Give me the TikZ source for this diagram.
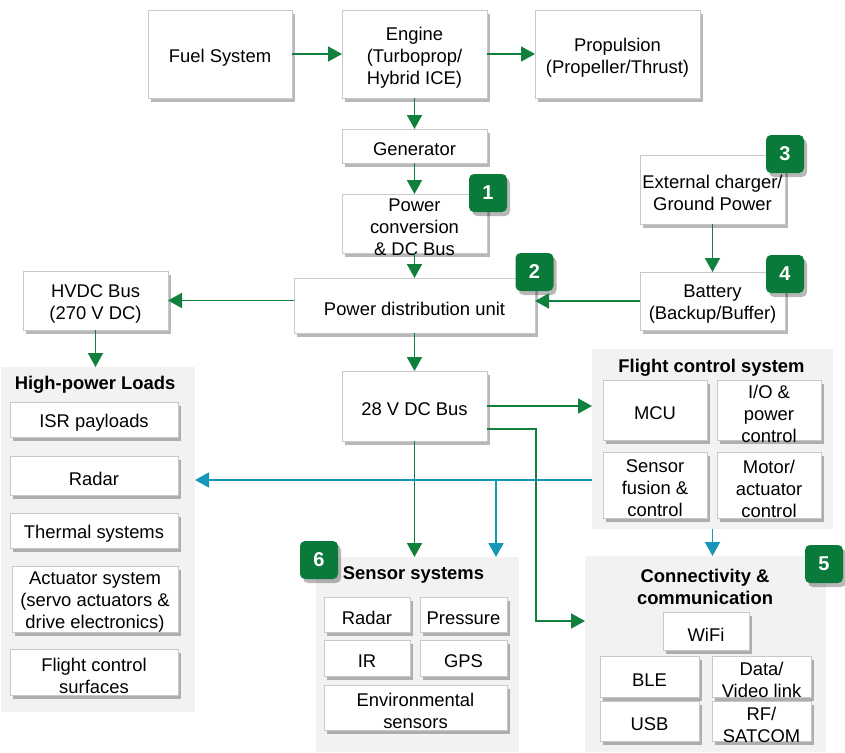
\documentclass[tikz,border=0pt]{standalone}
\usepackage{fontspec}
\setmainfont{Liberation Sans}
\usetikzlibrary{arrows.meta,shadows}
\definecolor{gline}{RGB}{16,128,60}
\definecolor{gbadge}{RGB}{10,122,58}
\definecolor{bline}{RGB}{23,150,185}
\definecolor{panelc}{RGB}{242,242,242}
\definecolor{bordc}{RGB}{200,200,200}
\tikzset{
 box/.style={draw=bordc, line width=0.9pt, fill=white, inner sep=0pt, outer sep=0pt,
   drop shadow={shadow xshift=3pt, shadow yshift=-4pt, opacity=0.28, fill=black}},
 txt/.style={align=center, font=\fontsize{18.4}{22}\selectfont, inner sep=0pt, text=black, yshift=-3.5pt},
 panel/.style={fill=panelc, inner sep=0pt, outer sep=0pt},
 ptitle/.style={font=\fontsize{18.4}{22}\selectfont\bfseries, align=center, inner sep=0pt},
 badge/.style={fill=gbadge, rounded corners=5pt, text=white, font=\fontsize{20}{24}\selectfont\bfseries,
   minimum size=38pt, inner sep=0pt, outer sep=0pt,
   drop shadow={shadow xshift=3pt, shadow yshift=-4pt, opacity=0.28, fill=black}},
 garrow/.style={draw=gline, line width=1.8pt, -{Triangle[length=14pt,width=15pt]}},
 barrow/.style={draw=bline, line width=1.8pt, -{Triangle[length=14pt,width=15pt]}},
}
\newcommand\bx[6]{\node[box, minimum width={#4-#2}, minimum height={#5-#3},
  label={[txt]center:{#6}}] (#1) at ({(#2+#4)/2},{(#3+#5)/2}) {};}
\newcommand\pn[5]{\node[panel, minimum width={#4-#2}, minimum height={#5-#3}]
  (#1) at ({(#2+#4)/2},{(#3+#5)/2}) {};}
\newcommand\bd[4]{\node[badge] (#1) at (#2,#3) {#4};}
\begin{document}
\begin{tikzpicture}[x=1pt,y=-1pt]
\useasboundingbox (0,0) rectangle (845,752);
% panels
\pn{hp}{1}{367}{195}{712}
\pn{fcs}{592}{349}{833}{529}
\pn{ss}{316}{557}{519}{752}
\pn{conn}{585}{556}{826}{752}
\node[ptitle] (hpt) at (95,385) {High-power Loads};
\node[ptitle] (fcst) at (711.5,368) {Flight control system};
\node[ptitle] (sst) at (413.5,575) {Sensor systems};
\node[ptitle] (connt) at (705,587) {Connectivity \&\\communication};
% top chain
\bx{fuel}{148}{10}{292}{98}{Fuel System}
\bx{eng}{342}{10}{487}{98}{Engine\\(Turboprop/\\Hybrid ICE)}
\bx{prop}{535}{10}{700}{98}{Propulsion\\(Propeller/Thrust)}
\bx{gen}{342}{129}{487}{163}{Generator}
\bx{pconv}{342}{194}{487}{253}{Power\\conversion\\\& DC Bus}
\bx{ext}{640}{155}{785}{224}{External charger/\\Ground Power}
\bx{hvdc}{23}{271}{168}{330}{HVDC Bus\\(270 V DC)}
\bx{pdu}{294}{278}{535}{333}{Power distribution unit}
\bx{batt}{640}{272}{785}{330}{Battery\\(Backup/Buffer)}
\bx{v28}{342}{371}{487}{441}{28 V DC Bus}
% high-power loads
\bx{isr}{10}{402}{178}{437}{ISR payloads}
\bx{hradar}{10}{456}{178}{495}{Radar}
\bx{therm}{10}{513}{178}{548}{Thermal systems}
\bx{act}{12}{566}{178}{632}{Actuator system\\(servo actuators \&\\drive electronics)}
\bx{fcsurf}{10}{649}{178}{695}{Flight control\\surfaces}
% flight control system
\bx{mcu}{603}{380}{707}{440}{MCU}
\bx{io}{717}{380}{821}{440}{I/O \&\\power\\control}
\bx{sfus}{603}{452}{707}{518}{Sensor\\fusion \&\\control}
\bx{motor}{717}{452}{821}{518}{Motor/\\actuator\\control}
% sensor systems
\bx{sradar}{324}{597}{410}{632}{Radar}
\bx{press}{420}{597}{507}{632}{Pressure}
\bx{ir}{324}{640}{410}{676}{IR}
\bx{gps}{420}{640}{507}{676}{GPS}
\bx{env}{324}{685}{507}{730}{Environmental\\sensors}
% connectivity
\bx{wifi}{663}{612}{749}{650}{WiFi}
\bx{ble}{600}{656}{699}{697}{BLE}
\bx{dvl}{712}{656}{811}{697}{Data/\\Video link}
\bx{usb}{600}{701}{699}{741}{USB}
\bx{rf}{712}{701}{811}{741}{RF/\\SATCOM}
% badges
\bd{b1}{488}{193}{1}
\bd{b2}{534.5}{272}{2}
\bd{b3}{785}{154}{3}
\bd{b4}{785}{274}{4}
\bd{b5}{824}{564}{5}
\bd{b6}{319}{560}{6}
% green connectors
\draw[garrow] (fuel.east) -- (eng.west);
\draw[garrow] (eng.east) -- (prop.west);
\draw[garrow] (eng.south) -- (gen.north);
\draw[garrow] (gen.south) -- (pconv.north);
\draw[garrow] (pconv.south) -- (pdu.north);
\draw[garrow] (ext.south) -- (batt.north);
\draw[garrow] (batt.west) -- (batt.west -| pdu.east);
\draw[garrow] (hvdc.east -| pdu.west) -- (hvdc.east);
\draw[garrow] (hvdc.south) -- (hvdc.south |- hp.north);
\draw[garrow] (pdu.south -| v28.north) -- (v28.north);
\draw[garrow] (v28.east) -- (v28.east -| fcs.west);
\draw[garrow] (v28.south) -- (v28.south |- ss.north);
\coordinate (g1) at (487,429);
\coordinate (g2) at (536,429);
\coordinate (g3) at (536,621);
\draw[garrow] (g1) -- (g2) -- (g3) -- (g3 -| conn.west);
% blue connectors
\coordinate (bl) at (592,480);
\coordinate (bj) at (496,480);
\draw[barrow] (bl) -- (bl -| hp.east);
\draw[barrow] (bj) -- (bj |- ss.north);
\draw[barrow] (fcs.south) -- (fcs.south |- conn.north);
\end{tikzpicture}
\end{document}
